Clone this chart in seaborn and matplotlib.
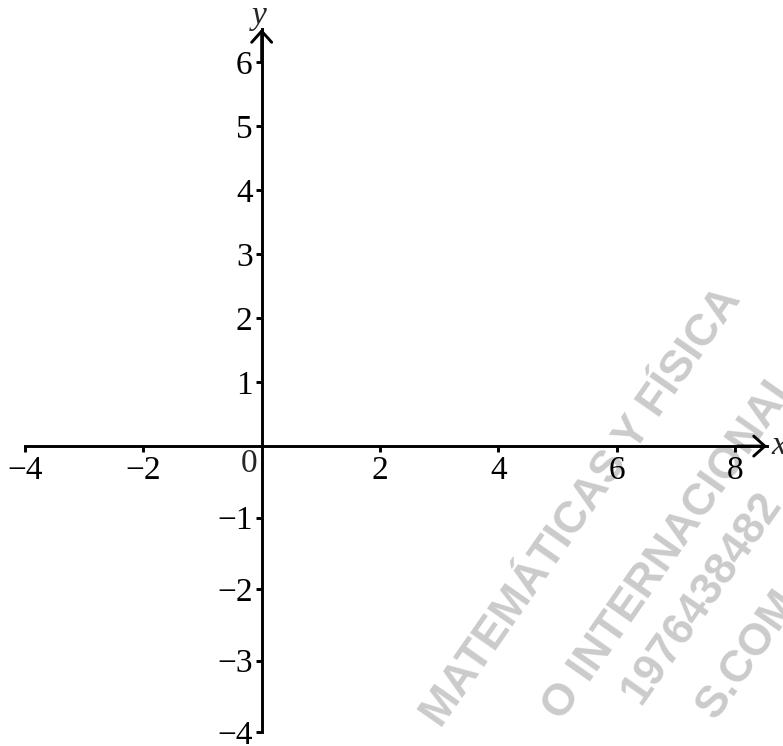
import numpy as np
import matplotlib
matplotlib.use("Agg")
import matplotlib.pyplot as plt
import seaborn as sns

# tick values on each axis
x_ticks = [-4, -2, 2, 4, 6, 8]
y_ticks = [-4, -3, -2, -1, 1, 2, 3, 4, 5, 6]
x_min, x_tip = -4, 8.54
y_min, y_tip = -4, 6.52

# watermark lines: text, centre (px from left, px from top)
wm_text = ["MATEMÁTICAS Y FÍSICA", "O INTERNACIONAL", "1976438482", "S.COM"]
wm_pos = [(582, 508), (672, 545), (702, 598), (748, 655)]

sns.set_theme(style="white")
plt.rcParams["font.family"] = ["Liberation Serif", "DejaVu Serif"]
plt.rcParams["axes.unicode_minus"] = True

W, H = 783, 746
fig = plt.figure(figsize=(W / 100, H / 100), dpi=100)
# axes placed so x=-4 sits at 25px and the arrow tip at 767px
ax = fig.add_axes([25 / W, 14 / H, (767 - 25) / W, (732 - 29) / H])

# the lower half of the y axis is drawn a bit more stretched than the upper one
k = 71.5 / 64
def fwd(v):
    v = np.asarray(v, dtype=float)
    return np.where(v < 0, v * k, v)
def inv(v):
    v = np.asarray(v, dtype=float)
    return np.where(v < 0, v / k, v)
ax.set_yscale("function", functions=(fwd, inv))

ax.set_xlim(x_min, x_tip)
ax.set_ylim(y_min, y_tip)

for s in ["top", "right"]:
    ax.spines[s].set_visible(False)
ax.spines["bottom"].set_position("zero")
ax.spines["left"].set_position("zero")
for s in ["bottom", "left"]:
    ax.spines[s].set_linewidth(2.1)
    ax.spines[s].set_color("black")
    ax.spines[s].set_zorder(3)

ax.set_xticks(x_ticks)
ax.set_yticks(y_ticks)
fmt = matplotlib.ticker.FuncFormatter(lambda v, p: f"{v:g}".replace("-", "\u2212"))
ax.xaxis.set_major_formatter(fmt)
ax.yaxis.set_major_formatter(fmt)
ax.tick_params(axis="both", direction="out", length=4.5, width=2.1, color="black",
               labelsize=24, labelcolor="black", bottom=True, left=True)
ax.tick_params(axis="x", pad=2)
ax.tick_params(axis="y", pad=2)
ax.minorticks_off()

# arrow heads
arrow = dict(arrowstyle="->,head_length=0.4,head_width=0.36", lw=2.1, color="black",
             mutation_scale=20, shrinkA=0, shrinkB=0)
ax.annotate("", xy=(x_tip, 0), xytext=(x_tip - 0.5, 0), arrowprops=arrow, annotation_clip=False)
ax.annotate("", xy=(0, y_tip), xytext=(0, y_tip - 0.5), arrowprops=arrow, annotation_clip=False)

ax.text(-0.22, -0.25, "0", fontsize=24, ha="center", va="center")
ax.text(259 / W, 1 - 16 / H, "y", fontsize=24, style="italic", ha="center", va="center",
        transform=fig.transFigure)
ax.text(x_tip + 0.08, 0, "x", fontsize=24, style="italic", ha="left", va="center", clip_on=False)

for t, (px, py) in zip(wm_text, wm_pos):
    ax.text(px / W, 1 - py / H, t, transform=fig.transFigure, rotation=55,
            rotation_mode="anchor", ha="center", va="center", fontsize=32,
            fontweight="bold", family="Liberation Sans", color="#cbcbcb", zorder=0)

ax.set_facecolor("white")
fig.savefig("out.png", dpi=100)
